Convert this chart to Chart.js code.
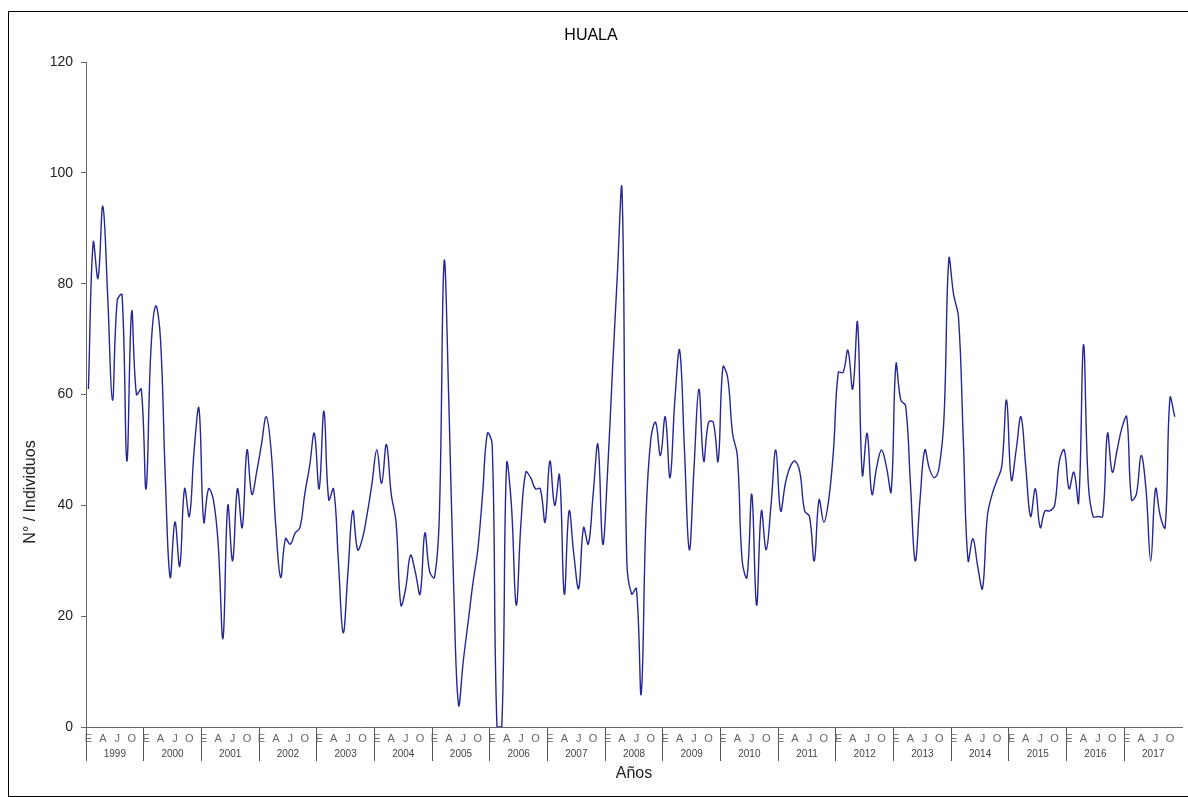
<!DOCTYPE html>
<html>
<head>
<meta charset="utf-8">
<script src="https://cdn.jsdelivr.net/npm/chart.js@4.4.0/dist/chart.umd.min.js"></script>
<style>
    body { margin: 0; background: #fff; }
    #wrap { position: relative; width: 1188px; height: 797px; overflow: hidden; }
    #frame { position: absolute; left: 8px; top: 11px; width: 1200px; height: 786px; border: 1px solid #000; box-sizing: border-box; pointer-events: none; }
    #ytitle { position: absolute; left: 30px; top: 492px; transform: translate(-50%, -50%) rotate(-90deg); font: 16px "Liberation Sans", Arial, sans-serif; color: #222; white-space: nowrap; }
</style>
</head>
<body>
<div id="wrap">
    <canvas id="huala" width="1188" height="797"></canvas>
    <div id="frame"></div>
    <div id="ytitle">N° / Individuos</div>
</div>
<script>
const years = ['1999', '2000', '2001', '2002', '2003', '2004', '2005', '2006', '2007', '2008',
               '2009', '2010', '2011', '2012', '2013', '2014', '2015', '2016', '2017'];
const monthLetters = ['E', '', '', 'A', '', '', 'J', '', '', 'O', '', ''];
const yTicks = [0, 20, 40, 60, 80, 100, 120];

// monthly counts, Jan..Dec
const y1999 = [61, 87.5, 81, 94, 78, 59, 77, 78, 48, 75, 60, 61];
const y2000 = [43, 68, 76, 70, 45, 27, 37, 29, 43, 38, 50, 57.5];
const y2001 = [37, 43, 41, 33, 16, 40, 30, 43, 36, 50, 42, 46];
const y2002 = [51, 56, 50, 36, 27, 34, 33, 35, 36, 42, 47, 53];
const y2003 = [43, 57, 41, 43, 30, 17, 28, 39, 32, 34, 38.5, 44];
const y2004 = [50, 44, 51, 42, 37, 22, 25, 31, 28, 24, 35, 28];
const y2005 = [27, 38, 84, 58, 25, 4, 12, 19, 26, 32, 42, 53];
const y2006 = [51, 0, 0, 47.5, 40, 22, 37, 46, 45, 43, 43, 37];
const y2007 = [48, 40, 45.5, 24, 39, 31, 25, 36, 33, 42, 51, 33];
const y2008 = [46, 64, 81, 97, 30, 24, 25, 6, 38, 52, 55, 49];
const y2009 = [56, 45, 59, 68, 50, 32, 47, 61, 48, 55, 55, 48];
const y2010 = [65, 63, 53, 49, 30, 27, 42, 22, 39, 32, 40, 50];
const y2011 = [39, 44, 47, 48, 46, 39, 38, 30, 41, 37, 41, 50];
const y2012 = [64, 64, 68, 61, 73, 45.5, 53, 42, 47, 50, 47, 42.5];
const y2013 = [65.5, 59, 58, 44, 30, 41, 50, 46.5, 45, 47, 56, 84.5];
const y2014 = [78, 74, 52, 30, 34, 29, 25, 38, 42, 44.5, 47, 59];
const y2015 = [44.6, 50, 56, 47, 38, 43, 36, 39, 39, 40, 48, 50];
const y2016 = [43, 46, 40.5, 69, 44, 38, 38, 38, 53, 46, 50, 54];
const y2017 = [56, 41, 42, 49, 43, 30, 43, 38, 36, 59.4, 56, null];

const series = [].concat(y1999, y2000, y2001, y2002, y2003, y2004, y2005, y2006, y2007, y2008,
                         y2009, y2010, y2011, y2012, y2013, y2014, y2015, y2016, y2017);
const labels = [];
years.forEach(y => monthLetters.forEach((m, k) => labels.push(y + '-' + (k + 1))));

Chart.defaults.font.family = '"Liberation Sans", Arial, sans-serif';
Chart.defaults.color = '#222';

const ctx = document.getElementById('huala').getContext('2d');
const chart = new Chart(ctx, {
    type: 'line',
    data: {
        labels: labels,
        datasets: [{
            data: series,
            borderColor: '#262696',
            borderWidth: 1.4,
            pointRadius: 0,
            tension: 0.4,
            fill: false
        }]
    },
    options: {
        responsive: false,
        animation: false,
        layout: { padding: { top: 10, right: 6, bottom: 12, left: 0 } },
        plugins: {
            legend: { display: false },
            tooltip: { enabled: false },
            title: {
                display: true,
                text: 'HUALA',
                color: '#000',
                font: { size: 16, weight: 'normal' },
                padding: { top: 16, bottom: 17 }
            }
        },
        scales: {
            x: {
                type: 'category',
                offset: true,
                weight: 0,
                grid: {
                    display: true,
                    offset: true,
                    drawOnChartArea: false,
                    drawTicks: true,
                    tickLength: 34,
                    lineWidth: 1,
                    color: (c) => (c.index % 12 === 0 ? '#555' : 'rgba(0,0,0,0)')
                },
                border: { display: true, color: '#666' },
                ticks: {
                    autoSkip: false,
                    maxRotation: 0,
                    minRotation: 0,
                    padding: -29,
                    color: '#666',
                    font: { size: 11 },
                    callback: (v, i) => monthLetters[i % 12]
                },
                afterFit: (s) => { s.height = 16; }
            },
            x2: {
                type: 'category',
                labels: years,
                offset: true,
                position: 'bottom',
                weight: 1,
                grid: { display: false, drawTicks: false },
                border: { display: false },
                ticks: { padding: 5, color: '#444', font: { size: 10 } },
                title: {
                    display: true,
                    text: 'Años',
                    color: '#222',
                    font: { size: 16 },
                    padding: { top: 0, bottom: 2 }
                },
                afterFit: (s) => { s.height = 42; }
            },
            y: {
                min: yTicks[0],
                max: yTicks[yTicks.length - 1],
                ticks: { stepSize: 20, padding: 8, color: '#222', font: { size: 14 } },
                grid: { display: true, drawOnChartArea: false, drawTicks: true, tickLength: 5, color: '#666' },
                border: { display: true, color: '#666' },
                afterFit: (s) => { s.width = 86; }
            }
        }
    }
});
</script>
</body>
</html>
